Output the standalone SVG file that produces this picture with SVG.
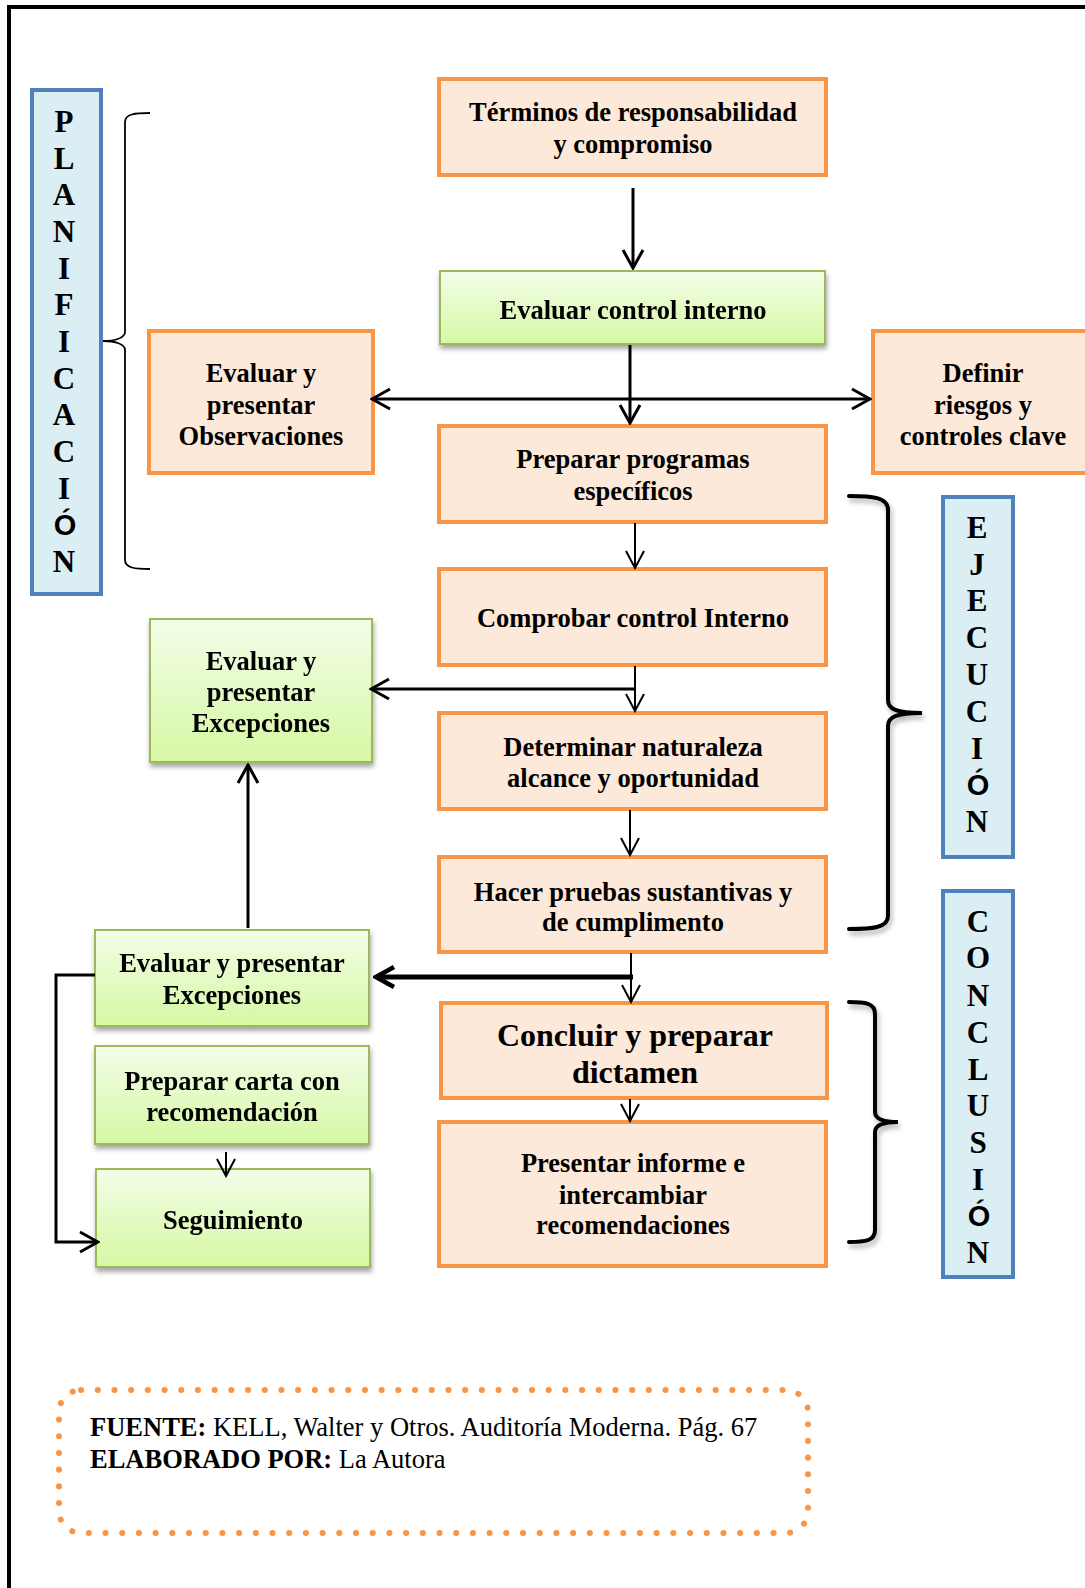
<svg xmlns="http://www.w3.org/2000/svg" width="1085" height="1588" viewBox="0 0 1085 1588">
<defs>
<linearGradient id="gg" x1="0" y1="0" x2="0" y2="1">
<stop offset="0" stop-color="#F3FDE9"/>
<stop offset="1" stop-color="#D6F8A3"/>
</linearGradient>
<filter id="sh" x="-10%" y="-10%" width="130%" height="140%">
<feDropShadow dx="1" dy="4" stdDeviation="2.5" flood-color="#000" flood-opacity="0.35"/>
</filter>
<filter id="bsh" x="-30%" y="-10%" width="160%" height="130%">
<feDropShadow dx="2" dy="4" stdDeviation="2.5" flood-color="#000" flood-opacity="0.3"/>
</filter>
<marker id="ah" viewBox="0 0 22 24" refX="20" refY="12" markerWidth="22" markerHeight="24" orient="auto" markerUnits="userSpaceOnUse">
<path d="M2,2 L20,12 L2,22" fill="none" stroke="#000" stroke-width="3"/>
</marker>
<marker id="ahs" viewBox="0 0 22 24" refX="20" refY="12" markerWidth="22" markerHeight="24" orient="auto" markerUnits="userSpaceOnUse">
<path d="M3,3 L20,12 L3,21" fill="none" stroke="#000" stroke-width="2"/>
</marker>
<marker id="ahb" viewBox="0 0 24 26" refX="21" refY="13" markerWidth="24" markerHeight="26" orient="auto" markerUnits="userSpaceOnUse">
<path d="M3,3 L21,13 L3,23" fill="none" stroke="#000" stroke-width="4.5"/>
</marker>
</defs>
<style>
.o{fill:#FDE9D9;stroke:#F79646;stroke-width:4}
.g{fill:url(#gg);stroke:#9BBB59;stroke-width:2}
.b{fill:#DAEEF3;stroke:#4F81BD;stroke-width:4}
.t{font-family:"Liberation Serif","Times New Roman",serif;font-weight:bold;font-size:26.5px;fill:#000;text-anchor:middle}
.big{font-size:32px}
.v{font-family:"Liberation Serif","Times New Roman",serif;font-weight:bold;font-size:31px;fill:#000;text-anchor:middle}
.vs{font-family:"Liberation Sans",Arial,sans-serif;font-weight:bold;font-size:29px}
.c{fill:none;stroke:#000;stroke-width:3}
.cs{fill:none;stroke:#000;stroke-width:2}
.br{fill:none;stroke:#000;stroke-width:4;stroke-linecap:round}
.f{font-family:"Liberation Serif","Times New Roman",serif;font-size:26.5px;fill:#000}
</style>
<rect width="1085" height="1588" fill="#fff"/>
<path d="M9,1588 V7 H1085" fill="none" stroke="#000" stroke-width="4"/>

<g id="planificacion">
<rect class="b" x="32" y="90" width="69" height="504"/>
<text class="v" x="64">
<tspan x="64" y="132">P</tspan><tspan x="64" y="169">L</tspan><tspan x="64" y="205">A</tspan><tspan x="64" y="242">N</tspan><tspan x="64" y="279">I</tspan><tspan x="64" y="315">F</tspan><tspan x="64" y="352">I</tspan><tspan x="64" y="389">C</tspan><tspan x="64" y="425">A</tspan><tspan x="64" y="462">C</tspan><tspan x="64" y="499">I</tspan><tspan x="65" y="535" class="vs">Ó</tspan><tspan x="64" y="572">N</tspan>
</text>
</g>
<g id="brace-planificacion">
<path d="M150,113 C135,113 125,114 125,122 V332 C125,338 115,341 103,341 C115,341 125,344 125,350 V560 C125,568 135,569 150,569" fill="none" stroke="#000" stroke-width="1.8"/>
</g>

<g id="ejecucion">
<rect class="b" x="943" y="497" width="70" height="360"/>
<text class="v">
<tspan x="977" y="538">E</tspan><tspan x="977" y="575">J</tspan><tspan x="977" y="611">E</tspan><tspan x="977" y="648">C</tspan><tspan x="977" y="685">U</tspan><tspan x="977" y="722">C</tspan><tspan x="977" y="759">I</tspan><tspan x="978" y="795" class="vs">Ó</tspan><tspan x="977" y="832">N</tspan>
</text>
</g>
<g id="brace-ejecucion" filter="url(#bsh)">
<path class="br" d="M849,496 C872,496 888,497 888,510 V700 C888,709 896,713 922,713 C896,713 888,717 888,726 V916 C888,928 872,929 849,929"/>
</g>

<g id="conclusion">
<rect class="b" x="943" y="891" width="70" height="386"/>
<text class="v">
<tspan x="978" y="932">C</tspan><tspan x="978" y="968">O</tspan><tspan x="978" y="1006">N</tspan><tspan x="978" y="1043">C</tspan><tspan x="978" y="1080">L</tspan><tspan x="978" y="1116">U</tspan><tspan x="978" y="1153">S</tspan><tspan x="978" y="1190">I</tspan><tspan x="979" y="1226" class="vs">Ó</tspan><tspan x="978" y="1263">N</tspan>
</text>
</g>
<g id="brace-conclusion" filter="url(#bsh)">
<path class="br" d="M849,1002 C865,1002 875,1003 875,1014 V1112 C875,1119 882,1122 898,1122 C882,1122 875,1125 875,1132 V1230 C875,1241 865,1242 849,1242"/>
</g>

<g id="terminos">
<rect class="o" x="439" y="79" width="387" height="96"/>
<text class="t" x="633" y="121">Términos de responsabilidad</text>
<text class="t" x="633" y="153">y compromiso</text>
</g>
<g id="evaluar-control" filter="url(#sh)">
<rect class="g" x="440" y="271" width="385" height="73"/>
<text class="t" x="633" y="319">Evaluar control interno</text>
</g>
<g id="observaciones">
<rect class="o" x="149" y="331" width="224" height="142"/>
<text class="t" x="261" y="382">Evaluar y</text>
<text class="t" x="261" y="414">presentar</text>
<text class="t" x="261" y="445">Observaciones</text>
</g>
<g id="definir">
<rect class="o" x="873" y="331" width="222" height="142"/>
<text class="t" x="983" y="382">Definir</text>
<text class="t" x="983" y="414">riesgos y</text>
<text class="t" x="983" y="445">controles clave</text>
</g>
<g id="preparar-programas">
<rect class="o" x="439" y="426" width="387" height="96"/>
<text class="t" x="633" y="468">Preparar programas</text>
<text class="t" x="633" y="500">específicos</text>
</g>
<g id="comprobar">
<rect class="o" x="439" y="569" width="387" height="96"/>
<text class="t" x="633" y="627">Comprobar control Interno</text>
</g>
<g id="excepciones-1" filter="url(#sh)">
<rect class="g" x="150" y="619" width="222" height="143"/>
<text class="t" x="261" y="670">Evaluar y</text>
<text class="t" x="261" y="701">presentar</text>
<text class="t" x="261" y="732">Excepciones</text>
</g>
<g id="determinar">
<rect class="o" x="439" y="713" width="387" height="96"/>
<text class="t" x="633" y="756">Determinar naturaleza</text>
<text class="t" x="633" y="787">alcance y oportunidad</text>
</g>
<g id="hacer">
<rect class="o" x="439" y="857" width="387" height="95"/>
<text class="t" x="633" y="901">Hacer pruebas sustantivas y</text>
<text class="t" x="633" y="931">de cumplimento</text>
</g>
<g id="excepciones-2" filter="url(#sh)">
<rect class="g" x="95" y="930" width="274" height="96"/>
<text class="t" x="232" y="972">Evaluar y presentar</text>
<text class="t" x="232" y="1004">Excepciones</text>
</g>
<g id="concluir">
<rect class="o" x="441" y="1003" width="386" height="95"/>
<text class="t big" x="635" y="1046">Concluir y preparar</text>
<text class="t big" x="635" y="1083">dictamen</text>
</g>
<g id="carta" filter="url(#sh)">
<rect class="g" x="95" y="1046" width="274" height="98"/>
<text class="t" x="232" y="1090">Preparar carta con</text>
<text class="t" x="232" y="1121">recomendación</text>
</g>
<g id="presentar">
<rect class="o" x="439" y="1122" width="387" height="144"/>
<text class="t" x="633" y="1172">Presentar informe e</text>
<text class="t" x="633" y="1204">intercambiar</text>
<text class="t" x="633" y="1234">recomendaciones</text>
</g>
<g id="seguimiento" filter="url(#sh)">
<rect class="g" x="96" y="1169" width="274" height="98"/>
<text class="t" x="233" y="1229">Seguimiento</text>
</g>

<g id="connectors">
<line class="c" x1="633" y1="188" x2="633" y2="268" marker-end="url(#ah)"/>
<line class="c" x1="630" y1="345" x2="630" y2="423" marker-end="url(#ah)"/>
<line class="c" x1="631" y1="399" x2="372" y2="399" marker-end="url(#ah)"/>
<line class="c" x1="629" y1="399" x2="870" y2="399" marker-end="url(#ah)"/>
<line class="cs" x1="635" y1="523" x2="635" y2="568" marker-end="url(#ahs)"/>
<line class="cs" x1="635" y1="666" x2="635" y2="711" marker-end="url(#ahs)"/>
<line class="c" x1="636" y1="689" x2="371" y2="689" marker-end="url(#ah)"/>
<line class="cs" x1="630" y1="810" x2="630" y2="855" marker-end="url(#ahs)"/>
<line class="cs" x1="631" y1="953" x2="631" y2="1002" marker-end="url(#ahs)"/>
<line x1="633" y1="977" x2="376" y2="977" fill="none" stroke="#000" stroke-width="5" marker-end="url(#ahb)"/>
<line class="cs" x1="630" y1="1099" x2="630" y2="1121" marker-end="url(#ahs)"/>
<line class="c" x1="248" y1="928" x2="248" y2="765" marker-end="url(#ah)"/>
<line class="cs" x1="226" y1="1152" x2="226" y2="1176" marker-end="url(#ahs)"/>
<path class="c" d="M95,975 H56 V1242 H98" marker-end="url(#ah)"/>
</g>

<g id="fuente">
<rect x="59" y="1390" width="749" height="143" rx="22" fill="none" stroke="#F79646" stroke-width="6" stroke-dasharray="0.1 16.6" stroke-linecap="round"/>
<text class="f" x="90" y="1436"><tspan font-weight="bold">FUENTE:</tspan> KELL, Walter y Otros. Auditoría Moderna. Pág. 67</text>
<text class="f" x="90" y="1468"><tspan font-weight="bold">ELABORADO POR:</tspan> La Autora</text>
</g>
</svg>
